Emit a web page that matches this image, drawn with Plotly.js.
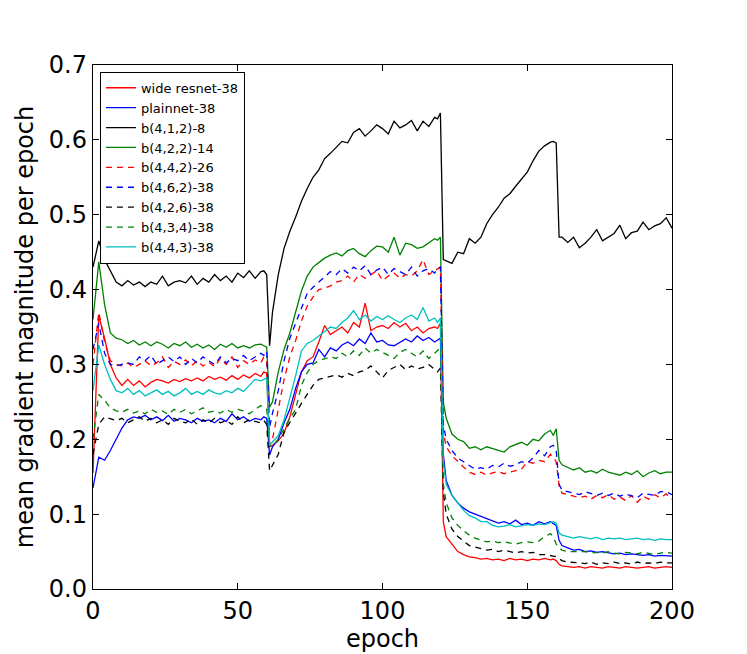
<!DOCTYPE html>
<html>
<head>
<meta charset="utf-8">
<script src="https://cdn.plot.ly/plotly-3.0.1.min.js"></script>
<style>
  html, body { margin: 0; padding: 0; background: #fff; }
  #plot { width: 747px; height: 654px; }
</style>
</head>
<body>
<div id="plot"></div>
<script>
// epochs sampled every 2, plus single epochs around the learning-rate drops
var epochs = [
  0,2,4,6,8,10,12,14,16,18,20,22,24,26,28,30,32,34,36,38,40,42,44,46,48,50,52,54,56,58,59,60,
  61,62,64,66,68,70,72,74,76,78,80,82,84,86,88,90,92,94,96,98,100,102,104,106,108,110,112,114,116,118,119,120,
  121,122,124,126,128,130,132,134,136,138,140,142,144,146,148,150,152,154,156,158,159,160,
  161,162,164,166,168,170,172,174,176,178,180,182,184,186,188,190,192,194,196,198,200
];

var wideResnet = [
  0.155,0.365,0.335,0.3,0.282,0.272,0.28,0.272,0.278,0.27,0.276,0.28,0.278,0.275,0.28,0.277,0.281,0.278,0.282,0.278,0.284,0.28,0.283,0.279,0.285,0.28,0.286,0.282,0.288,0.284,0.29,0.288,
  0.19,0.192,0.198,0.208,0.23,0.262,0.29,0.305,0.31,0.33,0.352,0.34,0.345,0.35,0.342,0.356,0.35,0.382,0.345,0.35,0.352,0.348,0.356,0.35,0.355,0.345,0.35,0.342,0.348,0.35,0.348,0.355,
  0.09,0.07,0.06,0.05,0.046,0.043,0.042,0.04,0.041,0.039,0.04,0.038,0.041,0.039,0.04,0.038,0.04,0.039,0.041,0.039,0.04,0.038,
  0.033,0.031,0.03,0.029,0.03,0.028,0.03,0.029,0.028,0.03,0.029,0.028,0.03,0.029,0.028,0.029,0.03,0.028,0.029,0.03,0.029
];
var plainnet = [
  0.135,0.176,0.172,0.185,0.2,0.215,0.226,0.23,0.228,0.232,0.226,0.23,0.225,0.232,0.224,0.228,0.226,0.222,0.228,0.224,0.226,0.222,0.228,0.224,0.234,0.226,0.23,0.224,0.228,0.226,0.23,0.228,
  0.179,0.19,0.2,0.222,0.24,0.268,0.29,0.3,0.302,0.32,0.31,0.322,0.318,0.326,0.33,0.325,0.334,0.328,0.342,0.33,0.332,0.326,0.325,0.33,0.334,0.33,0.338,0.332,0.336,0.33,0.332,0.335,
  0.18,0.145,0.125,0.115,0.108,0.103,0.1,0.097,0.094,0.09,0.088,0.09,0.087,0.092,0.086,0.088,0.085,0.09,0.087,0.09,0.088,0.085,
  0.065,0.058,0.055,0.052,0.053,0.05,0.051,0.049,0.05,0.048,0.047,0.048,0.046,0.047,0.046,0.045,0.046,0.044,0.045,0.044,0.044
];
var b412 = [
  0.43,0.465,0.44,0.425,0.41,0.405,0.412,0.406,0.41,0.404,0.41,0.407,0.418,0.405,0.41,0.412,0.409,0.418,0.407,0.415,0.41,0.42,0.412,0.418,0.41,0.422,0.416,0.425,0.415,0.424,0.425,0.42,
  0.325,0.37,0.42,0.455,0.478,0.497,0.518,0.535,0.55,0.56,0.575,0.582,0.59,0.598,0.596,0.61,0.615,0.605,0.612,0.62,0.615,0.608,0.625,0.616,0.62,0.626,0.612,0.625,0.618,0.63,0.628,0.636,
  0.44,0.438,0.435,0.45,0.448,0.468,0.462,0.47,0.488,0.5,0.51,0.522,0.528,0.538,0.548,0.557,0.572,0.585,0.592,0.597,0.598,0.596,
  0.47,0.47,0.463,0.47,0.456,0.462,0.47,0.48,0.465,0.47,0.475,0.486,0.468,0.476,0.478,0.49,0.48,0.485,0.488,0.496,0.482
];
var b422 = [
  0.36,0.437,0.38,0.342,0.335,0.333,0.328,0.332,0.326,0.33,0.325,0.33,0.327,0.322,0.328,0.325,0.33,0.323,0.327,0.322,0.326,0.32,0.327,0.323,0.328,0.322,0.325,0.322,0.326,0.327,0.325,0.323,
  0.243,0.25,0.29,0.32,0.342,0.37,0.398,0.418,0.43,0.436,0.442,0.446,0.449,0.445,0.452,0.455,0.448,0.444,0.452,0.458,0.457,0.45,0.47,0.446,0.462,0.46,0.455,0.457,0.462,0.468,0.466,0.47,
  0.25,0.228,0.207,0.2,0.197,0.188,0.19,0.186,0.19,0.188,0.186,0.183,0.19,0.193,0.196,0.192,0.2,0.198,0.207,0.212,0.205,0.214,
  0.172,0.166,0.162,0.159,0.162,0.156,0.158,0.155,0.16,0.156,0.154,0.152,0.156,0.153,0.158,0.15,0.155,0.158,0.154,0.156,0.156
];
var b442 = [
  0.3,0.37,0.33,0.305,0.3,0.298,0.302,0.296,0.3,0.305,0.298,0.302,0.31,0.296,0.304,0.3,0.306,0.298,0.305,0.298,0.303,0.297,0.308,0.3,0.31,0.296,0.305,0.3,0.306,0.302,0.31,0.305,
  0.195,0.2,0.24,0.28,0.31,0.332,0.358,0.378,0.39,0.4,0.402,0.405,0.41,0.412,0.418,0.41,0.42,0.415,0.42,0.425,0.412,0.418,0.422,0.415,0.42,0.418,0.425,0.44,0.42,0.425,0.428,0.43,
  0.21,0.19,0.178,0.17,0.163,0.156,0.153,0.156,0.152,0.155,0.157,0.154,0.156,0.158,0.16,0.17,0.168,0.172,0.17,0.18,0.176,0.17,
  0.138,0.128,0.126,0.125,0.122,0.124,0.12,0.125,0.122,0.126,0.12,0.123,0.118,0.125,0.116,0.124,0.12,0.126,0.122,0.127,0.12
];
var b462 = [
  0.32,0.355,0.315,0.3,0.298,0.3,0.302,0.3,0.31,0.305,0.312,0.3,0.305,0.31,0.304,0.31,0.3,0.308,0.302,0.31,0.305,0.3,0.31,0.302,0.308,0.305,0.312,0.305,0.31,0.315,0.312,0.318,
  0.216,0.235,0.265,0.305,0.335,0.355,0.376,0.395,0.403,0.41,0.416,0.424,0.42,0.428,0.422,0.43,0.425,0.432,0.42,0.426,0.43,0.42,0.428,0.424,0.42,0.43,0.418,0.425,0.428,0.422,0.428,0.43,
  0.22,0.2,0.185,0.175,0.17,0.165,0.16,0.162,0.16,0.165,0.163,0.168,0.164,0.166,0.17,0.168,0.175,0.185,0.178,0.19,0.192,0.185,
  0.14,0.132,0.13,0.128,0.126,0.13,0.127,0.125,0.128,0.125,0.128,0.124,0.127,0.124,0.122,0.128,0.126,0.125,0.13,0.13,0.126
];
var b426 = [
  0.18,0.22,0.23,0.228,0.225,0.228,0.222,0.226,0.23,0.224,0.228,0.222,0.226,0.22,0.228,0.224,0.222,0.227,0.22,0.226,0.222,0.228,0.222,0.225,0.22,0.23,0.222,0.226,0.224,0.222,0.225,0.22,
  0.158,0.165,0.18,0.21,0.222,0.235,0.248,0.26,0.272,0.28,0.282,0.285,0.286,0.283,0.288,0.285,0.29,0.292,0.298,0.29,0.282,0.292,0.296,0.3,0.293,0.298,0.294,0.296,0.3,0.294,0.29,0.295,
  0.13,0.1,0.08,0.07,0.064,0.058,0.056,0.054,0.052,0.053,0.05,0.052,0.05,0.048,0.05,0.048,0.049,0.046,0.046,0.045,0.044,0.043,
  0.04,0.038,0.036,0.036,0.035,0.034,0.036,0.033,0.035,0.034,0.036,0.034,0.035,0.033,0.036,0.034,0.035,0.034,0.036,0.035,0.035
];
var b434 = [
  0.2,0.26,0.252,0.242,0.238,0.236,0.24,0.235,0.238,0.234,0.24,0.236,0.238,0.233,0.24,0.236,0.24,0.234,0.238,0.242,0.236,0.238,0.235,0.24,0.236,0.24,0.238,0.234,0.24,0.245,0.242,0.24,
  0.192,0.19,0.2,0.215,0.228,0.24,0.272,0.289,0.3,0.305,0.308,0.31,0.308,0.315,0.31,0.318,0.312,0.322,0.315,0.32,0.316,0.312,0.308,0.316,0.32,0.315,0.31,0.318,0.308,0.315,0.318,0.322,
  0.14,0.115,0.095,0.085,0.078,0.072,0.068,0.065,0.063,0.064,0.062,0.063,0.062,0.06,0.062,0.063,0.062,0.064,0.07,0.074,0.07,0.06,
  0.055,0.052,0.05,0.05,0.049,0.05,0.048,0.049,0.048,0.05,0.048,0.047,0.049,0.048,0.047,0.049,0.048,0.046,0.048,0.049,0.048
];
var b443 = [
  0.265,0.326,0.3,0.28,0.265,0.262,0.268,0.26,0.265,0.258,0.262,0.266,0.26,0.264,0.258,0.262,0.268,0.26,0.264,0.26,0.266,0.262,0.26,0.265,0.262,0.268,0.264,0.272,0.28,0.278,0.28,0.282,
  0.192,0.196,0.205,0.226,0.255,0.285,0.318,0.328,0.332,0.338,0.345,0.35,0.348,0.356,0.362,0.372,0.36,0.366,0.358,0.364,0.36,0.365,0.36,0.356,0.362,0.366,0.36,0.376,0.358,0.362,0.356,0.362,
  0.17,0.14,0.125,0.115,0.105,0.098,0.095,0.09,0.09,0.085,0.083,0.084,0.086,0.083,0.085,0.086,0.085,0.087,0.086,0.088,0.09,0.088,
  0.075,0.072,0.07,0.068,0.07,0.068,0.067,0.069,0.066,0.068,0.067,0.068,0.066,0.067,0.068,0.066,0.067,0.065,0.067,0.066,0.066
];

var names = ['wide resnet-38', 'plainnet-38', 'b(4,1,2)-8', 'b(4,2,2)-14', 'b(4,4,2)-26',
             'b(4,6,2)-38', 'b(4,2,6)-38', 'b(4,3,4)-38', 'b(4,4,3)-38'];
var series = [wideResnet, plainnet, b412, b422, b442, b462, b426, b434, b443];
var colors = ['#ff0000', '#0000ff', '#000000', '#008000', '#ff0000', '#0000ff', '#000000', '#008000', '#00bfbf'];
var dashes = ['solid', 'solid', 'solid', 'solid', '6px,5px', '6px,5px', '6px,5px', '6px,5px', 'solid'];

var dataPlot = [];
for (var i = 0; i < names.length; i++) {
  dataPlot.push({
    type: 'scatter',
    mode: 'lines',
    name: names[i],
    x: epochs,
    y: series[i],
    line: {color: colors[i], width: 1.3, dash: dashes[i]}
  });
}

var axisStyle = {
  showline: true,
  linecolor: 'black',
  linewidth: 1.2,
  mirror: 'ticks',
  ticks: 'inside',
  ticklen: 6,
  tickwidth: 1,
  tickcolor: 'black',
  showgrid: false,
  zeroline: false,
  tickfont: {size: 24, color: 'black'}
};

var layout = {
  width: 747,
  height: 654,
  margin: {l: 93, r: 75, t: 65, b: 65},
  paper_bgcolor: 'white',
  plot_bgcolor: 'white',
  font: {family: 'DejaVu Sans', size: 24, color: 'black'},
  showlegend: true,
  legend: {
    x: 0.012, y: 0.987, xanchor: 'left', yanchor: 'top',
    bgcolor: 'white', bordercolor: 'black', borderwidth: 1,
    font: {family: 'DejaVu Sans', size: 13, color: 'black'},
    tracegroupgap: 0
  },
  xaxis: Object.assign({}, axisStyle, {
    range: [0, 200],
    tickvals: [0, 50, 100, 150, 200],
    title: {text: 'epoch', font: {size: 24}, standoff: 6}
  }),
  yaxis: Object.assign({}, axisStyle, {
    range: [0, 0.7],
    tickvals: [0, 0.1, 0.2, 0.3, 0.4, 0.5, 0.6, 0.7],
    tickformat: '.1f',
    title: {text: 'mean gradient magnitude per epoch', font: {size: 24}, standoff: 8}
  })
};

Plotly.newPlot('plot', dataPlot, layout, {displayModeBar: false, staticPlot: true});
</script>
</body>
</html>
